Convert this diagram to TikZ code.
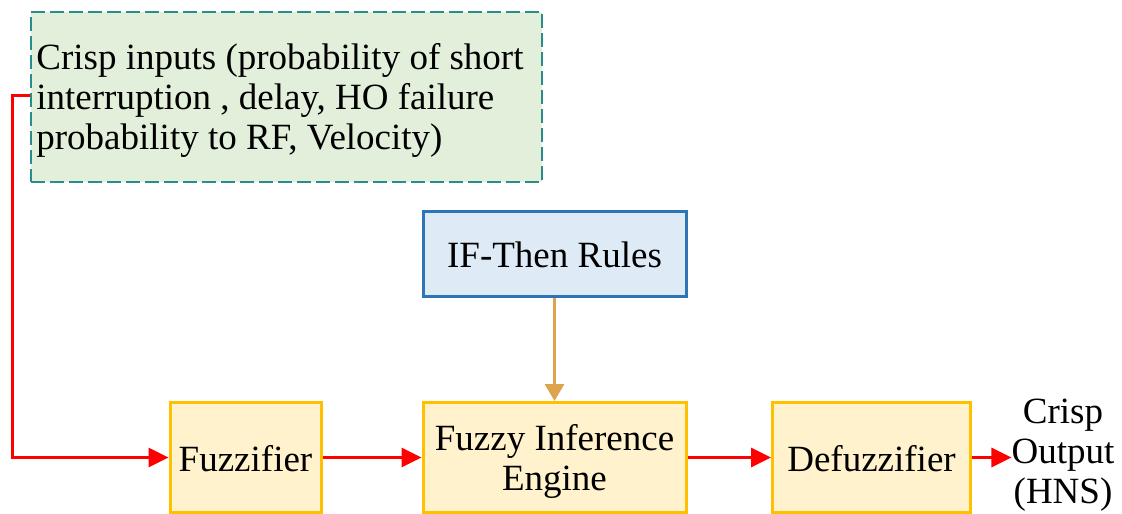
\documentclass[tikz,border=0pt]{standalone}
\usepackage{fontspec}
\setmainfont{Liberation Serif}
\usetikzlibrary{arrows.meta,positioning}
\definecolor{yborder}{HTML}{FFC000}
\definecolor{yfill}{HTML}{FFF2CC}
\definecolor{bborder}{HTML}{2E75B6}
\definecolor{bfill}{HTML}{DEEBF7}
\definecolor{gborder}{HTML}{2A8C8C}
\definecolor{gfill}{HTML}{E2EFDA}
\definecolor{oarrow}{HTML}{DDA44F}
\definecolor{rline}{HTML}{FF0000}
\tikzset{
  txt/.style={font=\fontsize{37}{40}\selectfont, align=center, inner sep=0pt},
  ybox/.style={draw=yborder, fill=yfill, line width=3pt, minimum height=110pt, inner sep=0pt},
  bbox/.style={draw=bborder, fill=bfill, line width=3pt, inner sep=0pt},
  gbox/.style={draw=gborder, fill=gfill, line width=1.6pt, dash pattern=on 14pt off 5pt, inner sep=0pt},
  redarrow/.style={draw=rline, line width=3pt, -{Triangle[length=20pt,width=19pt]}},
  orarrow/.style={draw=oarrow, line width=3pt, -{Triangle[length=17pt,width=19pt]}}
}
\begin{document}
\begin{tikzpicture}[x=1pt,y=-1pt]
\useasboundingbox (0,0) rectangle (1122,514);
% boxes
\node[gbox, minimum width=511pt, minimum height=170pt] (crisp) at (286.5,97) {};
\node[bbox, minimum width=263pt, minimum height=85pt] (rules) at (554.5,254) {};
\node[ybox, minimum width=151pt] (fuzz) at (245.5,457.5) {};
\node[ybox, minimum width=263pt] (fie) at (554.5,457.5) {};
\node[ybox, minimum width=198pt] (defuzz) at (871.5,457.5) {};
% texts
\node[txt, align=left, anchor=west] (crispT) at ([xshift=6pt,yshift=-3pt]crisp.west)
  {Crisp inputs (probability of short\\interruption , delay, HO failure\\probability to RF, Velocity)};
\node[txt] (rulesT) at ([yshift=-1pt]rules.center) {IF-Then Rules};
\node[txt] (fuzzT) at ([yshift=-1pt]fuzz.center) {Fuzzifier};
\node[txt] (fieT) at ([yshift=-4pt]fie.center) {Fuzzy Inference\\Engine};
\node[txt] (defuzzT) at ([yshift=-1pt]defuzz.center) {Defuzzifier};
\node[txt] (out) at (1063,455) {Crisp\\Output\\(HNS)};
% connectors
\draw[redarrow] ([yshift=2pt]crisp.west) -- ++(-18,0) |- (fuzz.west);
\draw[redarrow] (fuzz.east) -- (fie.west);
\draw[redarrow] (fie.east) -- (defuzz.west);
\draw[redarrow] (defuzz.east) -- (out.west |- defuzz.east);
\draw[orarrow] (rules.south) -- (fie.north);
\end{tikzpicture}
\end{document}
